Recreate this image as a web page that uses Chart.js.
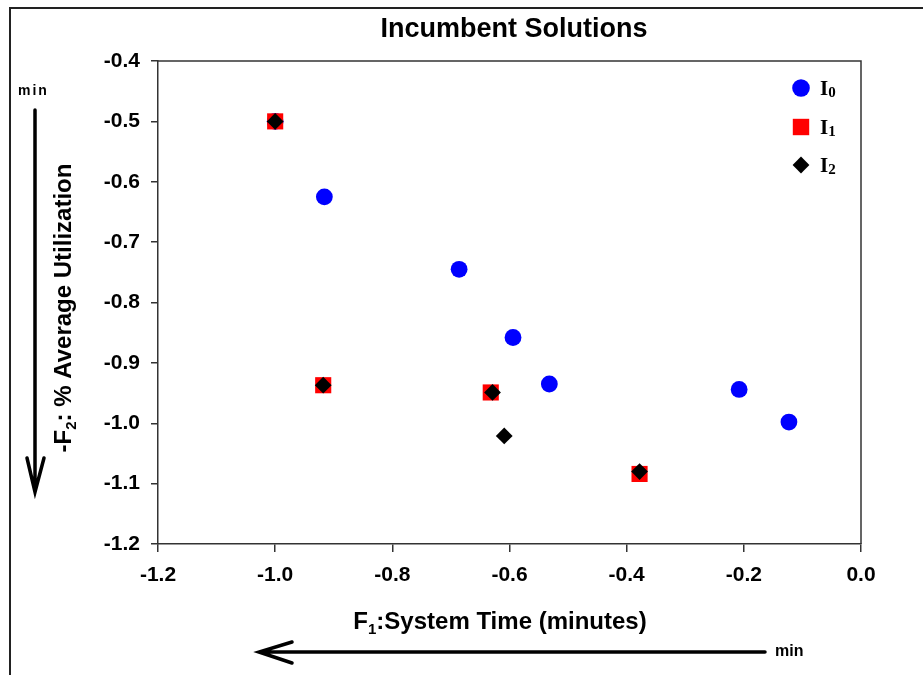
<!DOCTYPE html>
<html>
<head>
<meta charset="utf-8">
<script src="https://cdn.jsdelivr.net/npm/chart.js@4.4.1/dist/chart.umd.min.js"></script>
<style>
html,body{margin:0;padding:0;background:#fff;}
#wrap{width:923px;height:675px;position:relative;}
</style>
</head>
<body>
<div id="wrap"><canvas id="c" width="923" height="675"></canvas></div>
<script>
// ---- data ----
const seriesNames = ['I0', 'I1', 'I2'];
const i0X = [-1.0, -0.916, -0.686, -0.594, -0.532, -0.208, -0.123];
const i0Y = [-0.5, -0.625, -0.745, -0.858, -0.935, -0.944, -0.998];
const i1X = [-1.0, -0.918, -0.632, -0.378];
const i1Y = [-0.5, -0.937, -0.949, -1.084];
const i2X = [-1.0, -0.918, -0.629, -0.609, -0.378];
const i2Y = [-0.5, -0.937, -0.949, -1.021, -1.080];
const xTicks = [-1.2, -1.0, -0.8, -0.6, -0.4, -0.2, 0.0];
const yTicks = [-0.4, -0.5, -0.6, -0.7, -0.8, -0.9, -1.0, -1.1, -1.2];
const titleText = 'Incumbent Solutions';
const xTitleMain = ':System Time (minutes)';
const yTitleMain = ': % Average Utilization';

const toPts = (xs, ys) => xs.map((x, i) => ({x: x, y: ys[i]}));
const SANS = '"Liberation Sans", Arial, sans-serif';
const SERIF = '"Liberation Serif", "Times New Roman", serif';

const styles = [
  {color: '#0000FF', shape: 'circle', r: 8.4, order: 3},
  {color: '#FF0000', shape: 'rect', r: 11.4, order: 2},
  {color: '#000000', shape: 'rectRot', r: 8.4, order: 1}
];
const dataSets = [toPts(i0X, i0Y), toPts(i1X, i1Y), toPts(i2X, i2Y)];

const decor = {
  id: 'decor',
  afterDraw(chart) {
    const ctx = chart.ctx;
    const a = chart.chartArea;
    ctx.save();
    // outer frame (left & top)
    ctx.strokeStyle = '#222';
    ctx.lineWidth = 2;
    ctx.beginPath();
    ctx.moveTo(10, 675); ctx.lineTo(10, 8); ctx.lineTo(923, 8);
    ctx.stroke();
    // plot box top & right
    ctx.strokeStyle = '#333';
    ctx.lineWidth = 1.5;
    ctx.beginPath();
    ctx.moveTo(a.left, a.top); ctx.lineTo(a.right, a.top); ctx.lineTo(a.right, a.bottom);
    ctx.stroke();

    // title
    ctx.fillStyle = '#000';
    ctx.font = 'bold 27px ' + SANS;
    ctx.textAlign = 'center';
    ctx.textBaseline = 'alphabetic';
    ctx.fillText(titleText, 514, 37);

    // axis titles with subscript
    const drawSub = (x, y, pre, sub, post, size) => {
      ctx.textAlign = 'left';
      ctx.font = 'bold ' + size + 'px ' + SANS;
      const wPre = ctx.measureText(pre).width;
      ctx.font = 'bold ' + Math.round(size * 0.62) + 'px ' + SANS;
      const wSub = ctx.measureText(sub).width;
      ctx.font = 'bold ' + size + 'px ' + SANS;
      const wPost = ctx.measureText(post).width;
      const total = wPre + wSub + wPost;
      let cx = x - total / 2;
      ctx.fillText(pre, cx, y); cx += wPre;
      ctx.font = 'bold ' + Math.round(size * 0.62) + 'px ' + SANS;
      ctx.fillText(sub, cx, y + size * 0.22); cx += wSub;
      ctx.font = 'bold ' + size + 'px ' + SANS;
      ctx.fillText(post, cx, y);
    };
    drawSub(500, 629, 'F', '1', xTitleMain, 24);
    ctx.save();
    ctx.translate(71, 308);
    ctx.rotate(-Math.PI / 2);
    drawSub(0, 0, '-F', '2', yTitleMain, 24);
    ctx.restore();

    // "min" labels
    ctx.font = 'bold 14px ' + SANS;
    ctx.textAlign = 'left';
    ctx.textBaseline = 'middle';
    if ('letterSpacing' in ctx) ctx.letterSpacing = '2px';
    ctx.fillText('min', 18, 91);
    if ('letterSpacing' in ctx) ctx.letterSpacing = '0px';
    ctx.font = 'bold 16px ' + SANS;
    ctx.fillText('min', 775, 652);

    // arrows
    ctx.strokeStyle = '#000';
    ctx.lineWidth = 3.5;
    ctx.lineCap = 'round';
    ctx.beginPath();
    ctx.moveTo(35, 110); ctx.lineTo(35, 491);
    ctx.moveTo(27, 458); ctx.lineTo(35, 492); ctx.lineTo(44, 458);
    ctx.stroke();
    ctx.beginPath();
    ctx.moveTo(765, 652); ctx.lineTo(260, 652);
    ctx.moveTo(292, 642); ctx.lineTo(259, 652); ctx.lineTo(292, 663);
    ctx.stroke();

    // legend
    const lx = 801, ly = [88, 127, 165];
    styles.forEach((s, i) => {
      ctx.fillStyle = s.color;
      ctx.beginPath();
      if (s.shape === 'circle') ctx.arc(lx, ly[i], 8.8, 0, Math.PI * 2);
      else if (s.shape === 'rect') ctx.rect(lx - 8.2, ly[i] - 8.2, 16.4, 16.4);
      else { ctx.moveTo(lx - 8.4, ly[i]); ctx.lineTo(lx, ly[i] - 8.4); ctx.lineTo(lx + 8.4, ly[i]); ctx.lineTo(lx, ly[i] + 8.4); ctx.closePath(); }
      ctx.fill();
      ctx.fillStyle = '#000';
      ctx.textBaseline = 'alphabetic';
      ctx.textAlign = 'left';
      ctx.font = 'bold 21px ' + SERIF;
      const name = seriesNames[i];
      ctx.fillText(name[0], 820, ly[i] + 7);
      const w = ctx.measureText(name[0]).width;
      ctx.font = 'bold 15px ' + SERIF;
      ctx.fillText(name.slice(1), 820 + w, ly[i] + 9);
    });
    ctx.restore();
  }
};

new Chart(document.getElementById('c'), {
  type: 'scatter',
  data: {
    datasets: dataSets.map((d, i) => ({
      label: seriesNames[i],
      data: d,
      order: styles[i].order,
      pointStyle: styles[i].shape,
      pointRadius: styles[i].r,
      pointBackgroundColor: styles[i].color,
      pointBorderColor: styles[i].color,
      pointBorderWidth: 0,
      showLine: false
    }))
  },
  options: {
    responsive: false,
    animation: false,
    events: [],
    layout: {padding: {left: 0, top: 61, right: 62, bottom: 0}},
    plugins: {legend: {display: false}, title: {display: false}, tooltip: {enabled: false}},
    scales: {
      x: {
        type: 'linear', min: -1.2, max: 0.0,
        afterBuildTicks: s => { s.ticks = xTicks.map(v => ({value: v})); },
        afterFit: s => { s.height = 131; },
        grid: {drawOnChartArea: false, tickLength: 8, color: '#333', lineWidth: 1.5},
        border: {color: '#333', width: 1.5},
        ticks: {color: '#000', padding: 11, maxRotation: 0, font: {family: SANS, size: 21, weight: 'bold'},
                callback: v => v.toFixed(1)}
      },
      y: {
        type: 'linear', min: -1.2, max: -0.4,
        afterBuildTicks: s => { s.ticks = yTicks.map(v => ({value: v})); },
        afterFit: s => { s.width = 158; },
        grid: {drawOnChartArea: false, tickLength: 7, color: '#333', lineWidth: 1.5},
        border: {color: '#333', width: 1.5},
        ticks: {color: '#000', padding: 11, font: {family: SANS, size: 21, weight: 'bold'},
                callback: v => v.toFixed(1)}
      }
    }
  },
  plugins: [decor]
});
</script>
</body>
</html>
